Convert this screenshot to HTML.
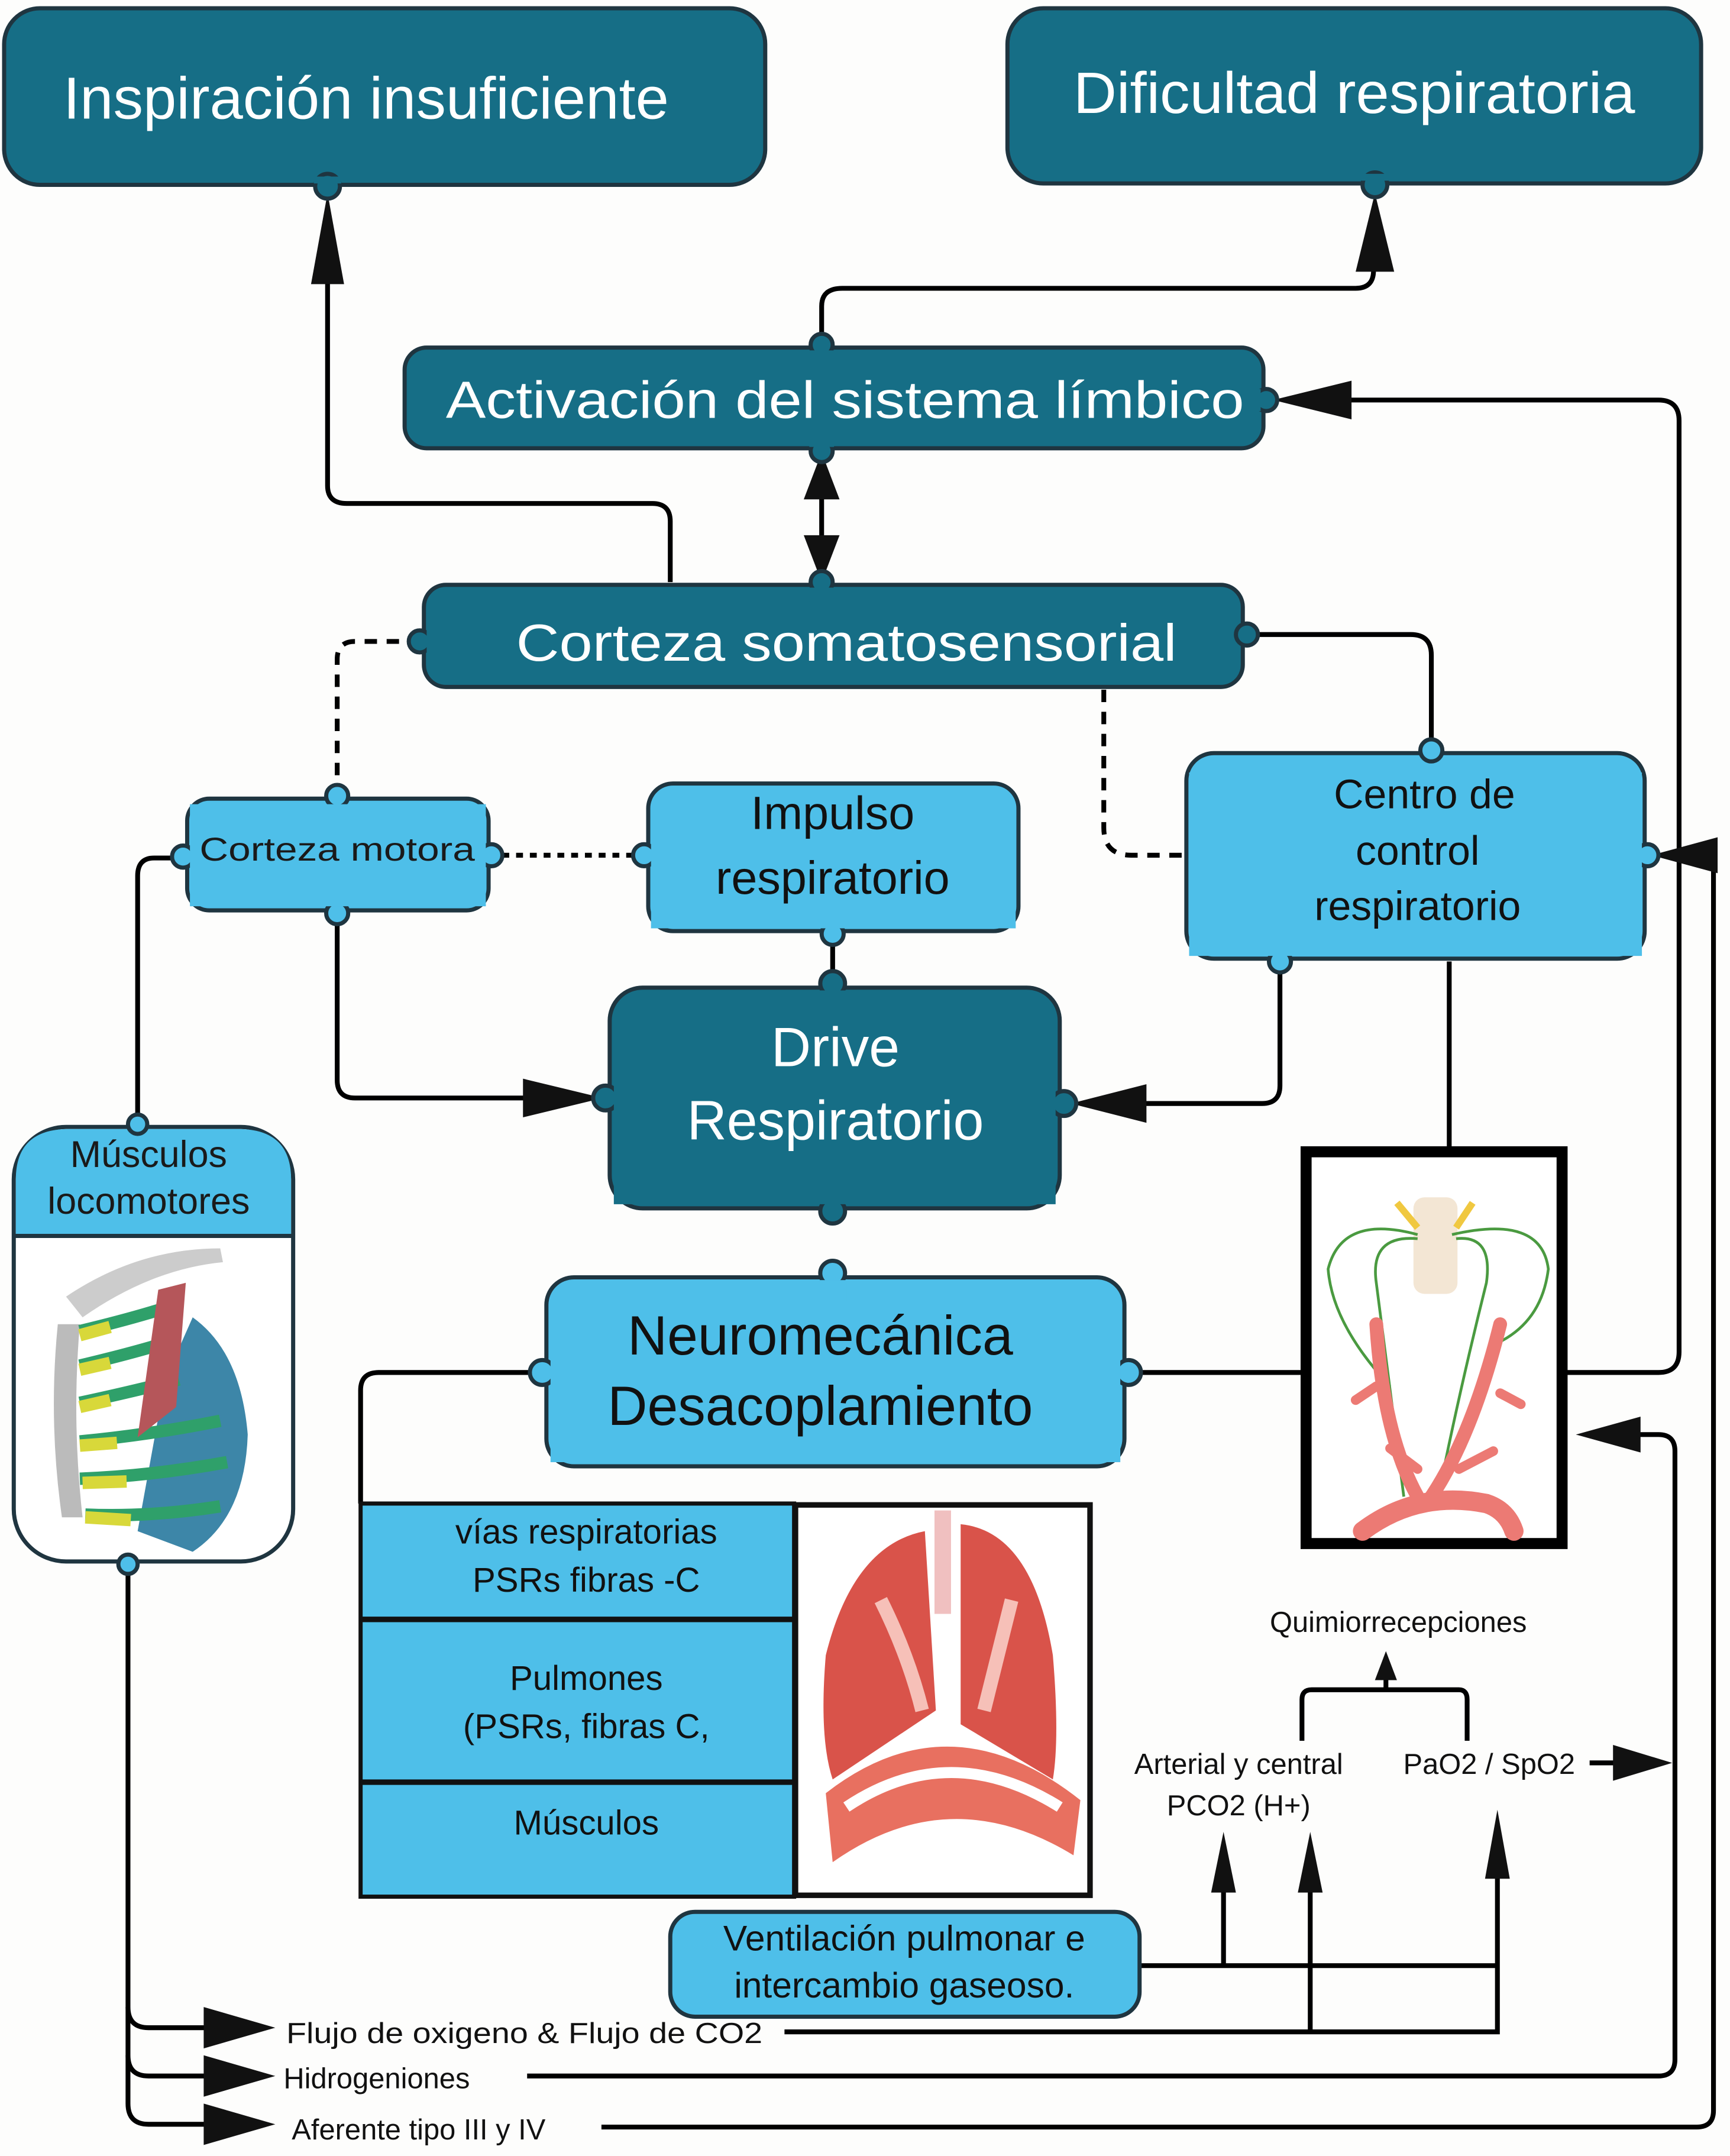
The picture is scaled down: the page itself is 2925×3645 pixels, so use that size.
<!DOCTYPE html>
<html><head><meta charset="utf-8"><style>
html,body{margin:0;padding:0;background:#fdfdfc;}
svg{display:block;}
text{font-family:"Liberation Sans",Arial,sans-serif;}
.dk{fill:#166e86;stroke:#1f3540;stroke-width:3;}
.lt{fill:#4ebfe9;stroke:#1f3540;stroke-width:3;}
.w{fill:#fff;}
.b{fill:#111;}
.ln{fill:none;stroke:#000;stroke-width:3.5;}
</style></head><body>
<svg width="2925" height="3645" viewBox="0 0 1257 1563" preserveAspectRatio="none" xmlns="http://www.w3.org/2000/svg">
<rect width="1257" height="1563" fill="#fdfdfc"/>

<!-- connectors -->
<g class="ln">
<path d="M487 422 V378 Q487 365 474 365 H252 Q238 365 238 352 V200"/>
<path d="M597 248 V222 Q597 209 612 209 H985 Q998 209 998 196 V180"/>
<path d="M597 360 V392"/>
<path d="M245 578 V478 Q245 465 258 465 H302" stroke-dasharray="9 7"/>
<path d="M355 620 H465" stroke-dasharray="5 5"/>
<path d="M802 500 V600 Q802 620 822 620 H862" stroke-dasharray="9 7"/>
<path d="M130 622 H112 Q100 622 100 635 V815"/>
<path d="M245 665 V783 Q245 796 258 796 H385"/>
<path d="M605 678 V712"/>
<path d="M930 700 V787 Q930 800 917 800 H830"/>
<path d="M905 460 H1025 Q1040 460 1040 475 V545"/>
<path d="M1053 697 V832"/>
<path d="M817 995 H945"/>
<path d="M1138 995 H1205 Q1220 995 1220 980 V305 Q1220 290 1205 290 H975"/>
<path d="M392 995 H275 Q262 995 262 1008 V1090"/>
<path d="M93 1135 V1525 Q93 1540 108 1540 H150"/>
<path d="M93 1455 Q93 1470 108 1470 H150"/>
<path d="M93 1490 Q93 1505 108 1505 H150"/>
<path d="M570 1473 H1088 V1360"/>
<path d="M952 1473 V1370"/>
<path d="M828 1425 H1088"/>
<path d="M889 1425 V1370"/>
<path d="M946 1262 V1232 Q946 1225 953 1225 H1060 Q1066 1225 1066 1232 V1262"/>
<path d="M1007 1225 V1215"/>
<path d="M1155 1278 H1175"/>
<path d="M383 1505 H1205 Q1217 1505 1217 1493 V1052 Q1217 1040 1205 1040 H1190"/>
<path d="M437 1542 H1233 Q1245 1542 1245 1530 V632 Q1245 620 1233 620 H1240"/>
</g>
<!-- arrowheads -->
<g class="b">
<polygon points="238,140 226,206 250,206"/>
<polygon points="999,140 985,197 1013,197"/>
<polygon points="597,328 584,362 610,362"/>
<polygon points="597,422 584,388 610,388"/>
<polygon points="438,796 380,782 380,810"/>
<polygon points="778,800 833,786 833,814"/>
<polygon points="925,290 982,276 982,304"/>
<polygon points="1145,1040 1192,1027 1192,1053"/>
<polygon points="1200,620 1248,607 1248,633"/>
<polygon points="1215,1278 1172,1265 1172,1291"/>
<polygon points="1007,1197 999,1218 1015,1218"/>
<polygon points="889,1328 880,1372 898,1372"/>
<polygon points="952,1328 943,1372 961,1372"/>
<polygon points="1088,1312 1079,1362 1097,1362"/>
<polygon points="200,1470 148,1455 148,1485"/>
<polygon points="200,1505 148,1490 148,1520"/>
<polygon points="200,1540 148,1525 148,1555"/>
</g>

<!-- Top boxes -->
<rect class="dk" x="3" y="6" width="553" height="128" rx="26"/>
<circle class="dk" cx="238" cy="135" r="9"/>
<rect x="228" y="128" width="20" height="5" fill="#166e86"/>
<text x="266" y="86" font-size="43" fill="#fff" text-anchor="middle" textLength="440" lengthAdjust="spacingAndGlyphs">Inspiración insuficiente</text>

<rect class="dk" x="732" y="6" width="504" height="127" rx="26"/>
<circle class="dk" cx="999" cy="134" r="9"/>
<rect x="989" y="126" width="20" height="5" fill="#166e86"/>
<text x="984" y="82" font-size="42" fill="#fff" text-anchor="middle" textLength="408" lengthAdjust="spacingAndGlyphs">Dificultad respiratoria</text>

<!-- Limbico -->
<rect class="dk" x="294" y="252" width="624" height="73" rx="16"/>
<circle class="dk" cx="597" cy="250" r="8"/><circle class="dk" cx="597" cy="327" r="8"/><circle class="dk" cx="920" cy="290" r="8"/>
<rect x="588" y="254" width="18" height="70" fill="#166e86"/><rect x="880" y="282" width="36" height="16" fill="#166e86"/>
<text x="614" y="303" font-size="38" fill="#fff" text-anchor="middle" textLength="580" lengthAdjust="spacingAndGlyphs">Activación del sistema límbico</text>

<!-- Somato -->
<rect class="dk" x="308" y="424" width="595" height="74" rx="16"/>
<circle class="dk" cx="305" cy="465" r="8"/><circle class="dk" cx="906" cy="460" r="8"/><circle class="dk" cx="597" cy="422" r="8"/>
<rect x="310" y="450" width="584" height="30" fill="#166e86"/><rect x="588" y="426" width="18" height="10" fill="#166e86"/>
<text x="615" y="479" font-size="38" fill="#fff" text-anchor="middle" textLength="480" lengthAdjust="spacingAndGlyphs">Corteza somatosensorial</text>

<!-- Corteza motora -->
<rect class="lt" x="136" y="579" width="219" height="81" rx="16"/>
<circle class="lt" cx="245" cy="577" r="8"/><circle class="lt" cx="245" cy="662" r="8"/><circle class="lt" cx="133" cy="621" r="8"/><circle class="lt" cx="357" cy="620" r="8"/>
<rect x="138" y="583" width="215" height="74" fill="#4ebfe9"/>
<text x="245" y="624" font-size="24" fill="#1a1a1a" text-anchor="middle" textLength="200" lengthAdjust="spacingAndGlyphs">Corteza motora</text>

<!-- Impulso -->
<rect class="lt" x="471" y="568" width="269" height="107" rx="18"/>
<circle class="lt" cx="468" cy="620" r="8"/><circle class="lt" cx="605" cy="677" r="8"/>
<rect x="473" y="590" width="265" height="83" fill="#4ebfe9"/>
<text x="605" y="601" font-size="34" fill="#111" text-anchor="middle">Impulso</text>
<text x="605" y="648" font-size="34" fill="#111" text-anchor="middle">respiratorio</text>

<!-- Centro -->
<rect class="lt" x="862" y="546" width="333" height="149" rx="20"/>
<circle class="lt" cx="1040" cy="544" r="8"/><circle class="lt" cx="1197" cy="620" r="8"/><circle class="lt" cx="930" cy="697" r="8"/>
<rect x="864" y="560" width="329" height="133" fill="#4ebfe9"/>
<text x="1035" y="586" font-size="30" fill="#111" text-anchor="middle">Centro de</text>
<text x="1030" y="627" font-size="30" fill="#111" text-anchor="middle">control</text>
<text x="1030" y="667" font-size="30" fill="#111" text-anchor="middle">respiratorio</text>

<!-- Drive -->
<rect class="dk" x="443" y="716" width="327" height="160" rx="24"/>
<circle class="dk" cx="605" cy="713" r="9"/><circle class="dk" cx="440" cy="796" r="9"/><circle class="dk" cx="773" cy="800" r="9"/><circle class="dk" cx="605" cy="878" r="9"/>
<rect x="446" y="740" width="321" height="133" fill="#166e86"/><rect x="595" y="718" width="20" height="20" fill="#166e86"/>
<text x="607" y="773" font-size="40" fill="#fff" text-anchor="middle">Drive</text>
<text x="607" y="826" font-size="40" fill="#fff" text-anchor="middle">Respiratorio</text>

<!-- Neuromecanica -->
<rect class="lt" x="397" y="926" width="420" height="137" rx="20"/>
<circle class="lt" cx="605" cy="923" r="9"/><circle class="lt" cx="394" cy="995" r="9"/><circle class="lt" cx="820" cy="995" r="9"/>
<rect x="400" y="940" width="414" height="120" fill="#4ebfe9"/><rect x="595" y="928" width="20" height="15" fill="#4ebfe9"/>
<text x="596" y="982" font-size="40" fill="#111" text-anchor="middle">Neuromecánica</text>
<text x="596" y="1033" font-size="40" fill="#111" text-anchor="middle">Desacoplamiento</text>

<!-- Musculos locomotores -->
<rect x="10" y="817" width="203" height="315" rx="38" fill="#fff" stroke="#1f3540" stroke-width="3"/>
<path d="M11.5 895 V855 Q11.5 818.5 50 818.5 H173 Q211.5 818.5 211.5 855 V895 Z" fill="#4ebfe9"/>
<line x1="11" y1="896" x2="212" y2="896" stroke="#1f3540" stroke-width="3"/>
<circle class="lt" cx="100" cy="815" r="7"/><circle class="lt" cx="93" cy="1134" r="7"/>
<text x="108" y="846" font-size="27" fill="#1a1a1a" text-anchor="middle">Músculos</text>
<text x="108" y="880" font-size="27" fill="#1a1a1a" text-anchor="middle">locomotores</text>
<!-- ribcage drawing -->
<g>
<path d="M48 940 Q100 905 160 905 L162 915 Q110 920 60 955 Z" fill="#ccc"/>
<path d="M42 960 Q35 1030 45 1100 L60 1100 Q52 1030 58 960 Z" fill="#bbb"/>
<path d="M140 955 Q175 980 180 1040 Q178 1100 140 1125 L100 1110 L120 1000 Z" fill="#3d86a8"/>
<g stroke-width="9" fill="none">
<path d="M58 965 Q100 955 130 945" stroke="#2fa06a"/>
<path d="M58 990 Q100 980 125 972" stroke="#2fa06a"/>
<path d="M58 1017 Q100 1008 130 1000" stroke="#2fa06a"/>
<path d="M58 1045 Q110 1040 160 1030" stroke="#2fa06a"/>
<path d="M58 1072 Q110 1070 165 1060" stroke="#2fa06a"/>
<path d="M62 1098 Q110 1100 160 1092" stroke="#2fa06a"/>
<path d="M58 968 L80 962" stroke="#d8d83a"/><path d="M58 993 L80 988" stroke="#d8d83a"/>
<path d="M58 1020 L80 1015" stroke="#d8d83a"/><path d="M58 1048 L85 1046" stroke="#d8d83a"/>
<path d="M60 1075 L92 1074" stroke="#d8d83a"/><path d="M62 1100 L95 1102" stroke="#d8d83a"/>
</g>
<path d="M115 935 L135 930 L128 1020 L100 1042 Z" fill="#b5565a"/>
</g>

<!-- nerve image -->
<rect x="949" y="835" width="186" height="284" fill="#fff" stroke="#000" stroke-width="8"/>
<rect x="1027" y="868" width="32" height="70" rx="8" fill="#f3e6d4"/>
<path d="M1015 872 L1030 890 M1070 872 L1058 890" stroke="#f0c840" stroke-width="5"/>
<g fill="none" stroke="#4a9a40" stroke-width="2">
<path d="M1030 895 Q975 880 965 920 Q968 960 1010 1005"/>
<path d="M1055 895 Q1120 880 1125 920 Q1120 960 1085 975"/>
<path d="M1030 898 Q995 895 1000 930 Q1010 1010 1020 1085"/>
<path d="M1058 898 Q1085 895 1080 930 Q1060 1010 1045 1085"/>
</g>
<g fill="none" stroke="#ec7a74" stroke-linecap="round">
<path d="M1000 960 Q1005 1040 1030 1085" stroke-width="10"/>
<path d="M1090 960 Q1070 1040 1040 1085" stroke-width="10"/>
<path d="M985 1015 L1000 1005" stroke-width="7"/>
<path d="M1105 1018 L1090 1010" stroke-width="7"/>
<path d="M1010 1050 L1030 1065" stroke-width="7"/>
<path d="M1060 1065 L1085 1052" stroke-width="7"/>
<path d="M990 1110 Q1030 1080 1080 1090 Q1095 1095 1100 1110" stroke-width="14"/>
</g>

<!-- table -->
<rect x="262" y="1090" width="315" height="285" fill="#4ebfe9" stroke="#111" stroke-width="3"/>
<line x1="262" y1="1174" x2="577" y2="1174" stroke="#111" stroke-width="4"/>
<line x1="262" y1="1292" x2="577" y2="1292" stroke="#111" stroke-width="4"/>
<text x="426" y="1119" font-size="25" fill="#111" text-anchor="middle">vías respiratorias</text>
<text x="426" y="1154" font-size="25" fill="#111" text-anchor="middle">PSRs fibras -C</text>
<text x="426" y="1225" font-size="25" fill="#111" text-anchor="middle">Pulmones</text>
<text x="426" y="1260" font-size="25" fill="#111" text-anchor="middle">(PSRs, fibras C,</text>
<text x="426" y="1330" font-size="25" fill="#111" text-anchor="middle">Músculos</text>
<!-- lung image -->
<rect x="578" y="1091" width="214" height="283" fill="#fff" stroke="#111" stroke-width="4"/>
<rect x="679" y="1095" width="12" height="75" fill="#f0c0c0"/>
<path d="M672 1110 Q620 1120 600 1200 Q595 1260 605 1290 L680 1240 Z" fill="#d9534a"/>
<path d="M698 1105 Q750 1110 765 1200 Q770 1260 765 1290 L698 1250 Z" fill="#d9534a"/>
<path d="M640 1160 Q660 1200 670 1240" stroke="#f6c0b8" stroke-width="10" fill="none"/>
<path d="M735 1160 Q725 1200 715 1240" stroke="#f6c0b8" stroke-width="10" fill="none"/>
<path d="M600 1300 Q690 1230 785 1305 L780 1345 Q690 1290 605 1350 Z" fill="#e87060"/>
<path d="M615 1310 Q690 1260 770 1310" stroke="#fff" stroke-width="8" fill="none"/>

<!-- Quimio labels -->
<text x="1016" y="1183" font-size="21" fill="#111" text-anchor="middle">Quimiorrecepciones</text>
<text x="900" y="1286" font-size="21" fill="#111" text-anchor="middle">Arterial y central</text>
<text x="900" y="1316" font-size="21" fill="#111" text-anchor="middle">PCO2 (H+)</text>
<text x="1082" y="1286" font-size="21" fill="#111" text-anchor="middle">PaO2 / SpO2</text>

<!-- Ventilacion -->
<rect class="lt" x="487" y="1386" width="341" height="76" rx="18"/>
<text x="657" y="1414" font-size="26" fill="#111" text-anchor="middle">Ventilación pulmonar e</text>
<text x="657" y="1448" font-size="26" fill="#111" text-anchor="middle">intercambio gaseoso.</text>

<!-- bottom labels -->
<text x="208" y="1481" font-size="21" fill="#111" textLength="346" lengthAdjust="spacingAndGlyphs">Flujo de oxigeno &amp; Flujo de CO2</text>
<text x="206" y="1514" font-size="21" fill="#111">Hidrogeniones</text>
<text x="212" y="1551" font-size="21" fill="#111">Aferente tipo III y IV</text>
</svg>
</body></html>
